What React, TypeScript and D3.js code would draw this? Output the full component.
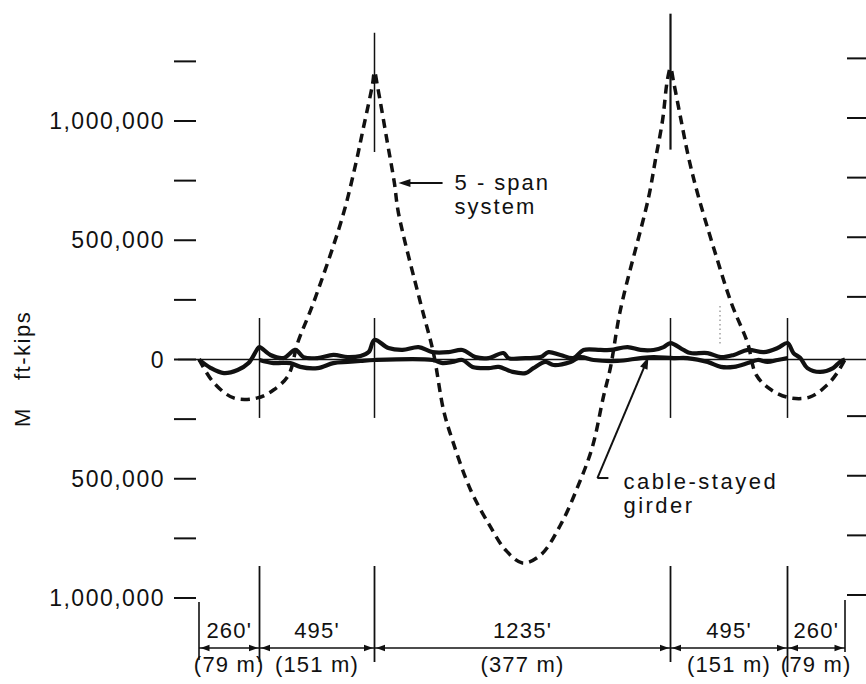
import React from "react";
import * as d3 from "d3";

// ---- data (feet along bridge, moment in kip-ft; positive = plotted upward) ----
const supportsFt = [0, 260, 755, 1990, 2485, 2745];
const spanFeet = ["260'", "495'", "1235'", "495'", "260'"];
const spanMetres = ["(79 m)", "(151 m)", "(377 m)", "(151 m)", "(79 m)"];
const yTicks = [1250000, 1000000, 750000, 500000, 250000, 0, -250000, -500000, -750000, -1000000];
const yLabelValues = [1000000, 500000, 0, -500000, -1000000];

const fiveSpanMoment: [number, number][] = [
  [0, 0], [64, -98000], [149, -161000], [251, -161000], [320, -128000], [385, -65000],
  [424, 69000], [492, 237000], [617, 597000], [673, 815000], [708, 975000], [746, 1151000],
  [755, 1206000], [768, 1143000], [809, 908000], [838, 740000], [855, 614000], [947, 237000],
  [1001, 27000], [1043, -212000], [1080, -338000], [1156, -547000], [1239, -702000],
  [1302, -799000], [1372, -853000], [1448, -820000], [1531, -694000], [1606, -526000],
  [1664, -367000], [1710, -157000], [1740, -31000], [1781, 208000], [1898, 677000],
  [1927, 837000], [1957, 1004000], [1977, 1172000], [1990, 1222000], [2003, 1164000],
  [2032, 1017000], [2066, 849000], [2104, 698000], [2172, 470000], [2248, 235000],
  [2316, 70000], [2353, -65000], [2417, -128000], [2498, -161000], [2588, -157000],
  [2664, -107000], [2709, -57000], [2745, 0],
];

const girderUpper: [number, number][] = [
  [0, 0], [51, -36000], [107, -57000], [166, -44000], [213, -15000], [251, 44000], [260, 52000],
  [307, 19000], [363, 6000], [415, 40000], [449, 10000], [510, 6000], [578, 19000], [639, 10000],
  [695, 15000], [730, 31000], [755, 82000], [813, 48000], [872, 40000], [939, 52000], [997, 31000],
  [1064, 31000], [1122, 40000], [1176, 10000], [1231, 6000], [1293, 27000], [1314, 6000],
  [1385, 6000], [1448, 10000], [1481, 31000], [1531, 19000], [1585, 6000], [1627, 40000],
  [1698, 40000], [1740, 40000], [1811, 52000], [1865, 40000], [1919, 40000], [1961, 52000],
  [1990, 69000], [2045, 40000], [2075, 27000], [2147, 27000], [2203, 10000], [2258, 19000],
  [2317, 40000], [2385, 31000], [2443, 48000], [2485, 69000], [2512, 27000], [2543, 6000],
  [2575, -36000], [2632, -52000], [2691, -36000], [2722, -10000], [2745, 0],
];

const girderLower: [number, number][] = [
  [260, -2000], [320, -15000], [393, -15000], [436, -31000], [510, -36000], [578, -15000],
  [639, -10000], [695, -6000], [755, -2000], [997, -2000], [1039, -15000], [1080, -10000],
  [1122, -2000], [1164, -31000], [1231, -36000], [1273, -31000], [1331, -52000], [1385, -57000],
  [1418, -36000], [1468, -10000], [1502, -23000], [1573, -10000], [1614, 10000], [1669, -2000],
  [1769, -6000], [1865, 6000], [1919, 10000], [2003, 6000], [2062, 6000], [2147, -10000],
  [2203, -31000], [2258, -31000], [2317, -15000], [2359, -2000], [2400, -10000], [2443, -2000],
  [2485, 6000],
];

const pierLineRange = [174000, -245000];
const towerLines = [
  { ft: 755, top: 1370000, bottom: 870000, w: 1.5 },
  { ft: 1990, top: 1450000, bottom: 880000, w: 2.2 },
];
const spanArrow = { fromFt: 1039, toFt: 855, m: 740000 };
const girderLeader = { fromFt: 1685, fromM: -497000, toFt: 1898, toM: 10000 };

const FONT = "'Liberation Sans', Arial, Helvetica, sans-serif";

export default function App() {
  const W = 866, H = 684;
  const x = d3.scaleLinear().domain(supportsFt).range([199, 259.5, 374.5, 670.5, 787.5, 845]);
  const y = d3.scaleLinear().domain([-1000000, 1000000]).range([598, 121]);
  const line = d3
    .line<[number, number]>()
    .x((d) => x(d[0]))
    .y((d) => y(d[1]))
    .curve(d3.curveCatmullRom.alpha(0.5));
  const fmt = d3.format(",");

  const dimY = 648;
  const arrowHead = (tipX: number, tipY: number, dir: number, len = 9, hw = 3.2) =>
    `M${tipX},${tipY}L${tipX - dir * len},${tipY - hw}L${tipX - dir * len},${tipY + hw}Z`;

  const lx1 = x(girderLeader.fromFt), ly1 = y(girderLeader.fromM);
  const lx2 = x(girderLeader.toFt), ly2 = y(girderLeader.toM);
  const ang = Math.atan2(ly2 - ly1, lx2 - lx1);
  const ah = (len: number, hw: number) => {
    const bx = lx2 - Math.cos(ang) * len, by = ly2 - Math.sin(ang) * len;
    const px = -Math.sin(ang) * hw, py = Math.cos(ang) * hw;
    return `M${lx2},${ly2}L${bx + px},${by + py}L${bx - px},${by - py}Z`;
  };

  const sax1 = x(spanArrow.fromFt), sax2 = x(spanArrow.toFt), say = y(spanArrow.m);

  return (
    <svg
      width={W}
      height={H}
      style={{ position: "absolute", left: 0, top: 0, background: "#fff" }}
      fontFamily={FONT}
    >
      <rect width={W} height={H} fill="#fff" />
      {yTicks.map((t) => (
        <line key={"l" + t} x1={174} x2={196} y1={y(t)} y2={y(t)} stroke="#111" strokeWidth={2} />
      ))}
      <g transform="translate(0,-3)">
        {yTicks.filter((t) => t !== 0).map((t) => (
          <line key={"r" + t} x1={847} x2={866} y1={y(t)} y2={y(t)} stroke="#111" strokeWidth={2} />
        ))}
      </g>
      {yLabelValues.map((v) => (
        <text key={"t" + v} x={165} y={y(v) + 8} textAnchor="end" fontSize={23} letterSpacing={1.5} fill="#111">
          {fmt(Math.abs(v))}
        </text>
      ))}
      <g transform={`translate(30,427) rotate(-90)`}>
        <text x={0} y={0} fontSize={22} fill="#111">M</text>
        <text x={47} y={0} fontSize={22} letterSpacing={1.5} fill="#111">ft-kips</text>
      </g>

      <line x1={178} x2={866} y1={y(0)} y2={y(0)} stroke="#111" strokeWidth={1.6} />

      {supportsFt.slice(1, 5).map((s) => (
        <line key={"p" + s} x1={x(s)} x2={x(s)} y1={y(pierLineRange[0])} y2={y(pierLineRange[1])} stroke="#111" strokeWidth={1.5} />
      ))}
      {towerLines.map((t) => (
        <line key={"tw" + t.ft} x1={x(t.ft)} x2={x(t.ft)} y1={y(t.top)} y2={y(t.bottom)} stroke="#111" strokeWidth={t.w} />
      ))}
      <line x1={720} x2={720} y1={306} y2={344} stroke="#888" strokeWidth={1.2} strokeDasharray="1.5 3" />

      <path d={line(fiveSpanMoment) || ""} fill="none" stroke="#111" strokeWidth={3.5} strokeDasharray="9 6" />
      <path d={line(girderUpper) || ""} fill="none" stroke="#111" strokeWidth={4.2} strokeLinejoin="round" />
      <path d={line(girderLower) || ""} fill="none" stroke="#111" strokeWidth={4.2} strokeLinejoin="round" />

      <line x1={sax1} x2={sax2 + 6} y1={say} y2={say} stroke="#111" strokeWidth={2} />
      <path d={arrowHead(sax2, say, -1, 12, 4)} fill="#111" />
      <text x={sax1 + 12} y={say + 7} fontSize={22} letterSpacing={2} fill="#111">5 - span</text>
      <text x={sax1 + 12} y={say + 31} fontSize={22} letterSpacing={2} fill="#111">system</text>

      <line x1={lx1} y1={ly1} x2={lx2 - Math.cos(ang) * 8} y2={ly2 - Math.sin(ang) * 8} stroke="#111" strokeWidth={2} />
      <line x1={lx1} y1={ly1} x2={lx1 + 11} y2={ly1} stroke="#111" strokeWidth={2} />
      <path d={ah(12, 4)} fill="#111" />
      <text x={lx1 + 26} y={ly1 + 11} fontSize={22} letterSpacing={2.5} fill="#111">cable-stayed</text>
      <text x={lx1 + 26} y={ly1 + 35} fontSize={22} letterSpacing={2.5} fill="#111">girder</text>

      <line x1={x(0)} x2={x(0)} y1={602} y2={660} stroke="#111" strokeWidth={1.6} />
      <line x1={x(2745)} x2={x(2745)} y1={600} y2={652} stroke="#111" strokeWidth={1.6} />
      {supportsFt.slice(1, 5).map((s, i) => (
        <line key={"bd" + s} x1={x(s)} x2={x(s)} y1={566} y2={i === 3 ? 672 : 662} stroke="#111" strokeWidth={1.8} />
      ))}
      <line x1={x(0)} x2={x(2745)} y1={dimY} y2={dimY} stroke="#111" strokeWidth={1.3} />
      {spanFeet.map((lab, i) => {
        const a = x(supportsFt[i]), b = x(supportsFt[i + 1]);
        const c = (a + b) / 2;
        return (
          <g key={"s" + i}>
            <path d={arrowHead(a + 1.5, dimY, -1)} fill="#111" />
            <path d={arrowHead(b - 1.5, dimY, 1)} fill="#111" />
            <text x={c} y={638} textAnchor="middle" fontSize={22} letterSpacing={1.2} fill="#111">{lab}</text>
            <text x={c} y={672} textAnchor="middle" fontSize={22} letterSpacing={1.2} fill="#111">{spanMetres[i]}</text>
          </g>
        );
      })}
    </svg>
  );
}
